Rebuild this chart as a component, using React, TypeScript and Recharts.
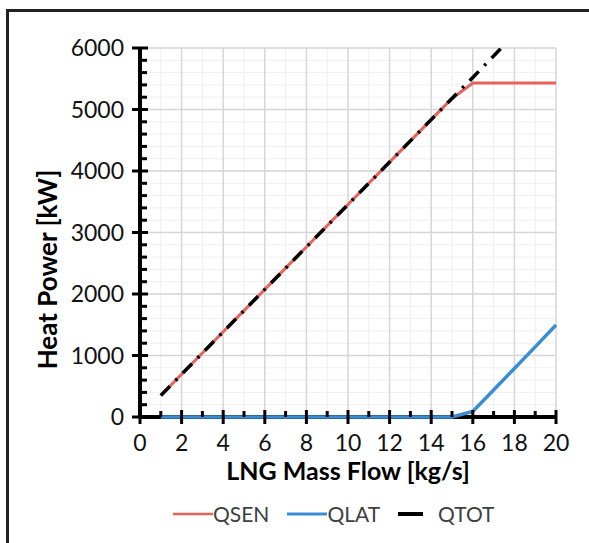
import React from 'react';
import { LineChart, Line, XAxis, YAxis, CartesianGrid, Legend, Label } from 'recharts';

// LNG mass flow [kg/s]
const flow = [1, 2, 3, 4, 5, 6, 7, 8, 9, 10, 11, 12, 13, 14, 15, 16, 17, 18, 19, 20];
// heat power [kW]
const qsen = [350, 695, 1040, 1385, 1730, 2075, 2420, 2765, 3110, 3455, 3800, 4145, 4490, 4835, 5180, 5430, 5430, 5430, 5430, 5430];
const qlat = [0, 0, 0, 0, 0, 0, 0, 0, 0, 0, 0, 0, 0, 0, 0, 90, 440, 790, 1140, 1495];
const qtot = [350, 695, 1040, 1385, 1730, 2075, 2420, 2765, 3110, 3455, 3800, 4145, 4490, 4835, 5180, 5520, 5870, 6220, null, null];

const seriesOrder = ['QSEN', 'QLAT', 'QTOT'];

const xTicks = [0, 1, 2, 3, 4, 5, 6, 7, 8, 9, 10, 11, 12, 13, 14, 15, 16, 17, 18, 19, 20];
const xMajor = [0, 2, 4, 6, 8, 10, 12, 14, 16, 18, 20];
const xMinor = [1, 3, 5, 7, 9, 11, 13, 15, 17, 19];
const yTicks = [0, 200, 400, 600, 800, 1000, 1200, 1400, 1600, 1800, 2000, 2200, 2400, 2600, 2800, 3000,
  3200, 3400, 3600, 3800, 4000, 4200, 4400, 4600, 4800, 5000, 5200, 5400, 5600, 5800, 6000];
const yMajor = [0, 1000, 2000, 3000, 4000, 5000, 6000];

const data = flow.map((f, i) => ({ flow: f, QSEN: qsen[i], QLAT: qlat[i], QTOT: qtot[i] }));

const FONT = 'Lato, "Open Sans", sans-serif';

const XTick = (props: any) => {
  const { x, y, payload } = props;
  const v = payload.value;
  if (v % 2 !== 0) {
    return <line x1={x} x2={x} y1={y} y2={y - 6} stroke="#000" strokeWidth={3} />;
  }
  return (
    <g>
      <line x1={x} x2={x} y1={y - 7} y2={y + 7} stroke="#000" strokeWidth={3} />
      <text x={x} y={y + 34} textAnchor="middle" fontFamily={FONT} fontSize={23} fill="#111">{v}</text>
    </g>
  );
};

const YTick = (props: any) => {
  const { x, y, payload } = props;
  const v = payload.value;
  if (v % 1000 !== 0) {
    return <line x1={x} x2={x + 7} y1={y} y2={y} stroke="#000" strokeWidth={3} />;
  }
  return (
    <g>
      <line x1={x - 8} x2={x + 8} y1={y} y2={y} stroke="#000" strokeWidth={3} />
      <text x={x - 16} y={y + 8} textAnchor="end" fontFamily={FONT} fontSize={23} fill="#111">{v}</text>
    </g>
  );
};

const renderLegend = (props: any) => {
  const items = [...(props.payload || [])].sort(
    (a: any, b: any) => seriesOrder.indexOf(a.value) - seriesOrder.indexOf(b.value)
  );
  return (
    <div style={{ display: 'flex', alignItems: 'center', paddingLeft: 173, fontFamily: FONT, fontSize: 21, color: '#404040' }}>
      {items.map((it: any, i: number) => {
        const dashed = it.value === 'QTOT';
        return (
          <div key={it.value} style={{ display: 'flex', alignItems: 'center', marginRight: i < items.length - 1 ? 18 : 0 }}>
            <svg width={40} height={10}>
              {dashed
                ? <line x1={0} x2={25} y1={5} y2={5} stroke={it.color} strokeWidth={4} />
                : <line x1={0} x2={40} y1={5} y2={5} stroke={it.color} strokeWidth={it.value === 'QLAT' ? 3 : 2.5} />}
            </svg>
            <span>{it.value}</span>
          </div>
        );
      })}
    </div>
  );
};

export default function App() {
  return (
    <div style={{ position: 'fixed', left: 0, top: 0, width: 589, height: 543, background: '#fff' }}>
      <div style={{ position: 'absolute', left: 6, top: 9, right: 0, bottom: 0, borderTop: '3px solid #222', borderLeft: '3px solid #222' }} />
      <div style={{ position: 'absolute', left: 0, top: 0 }}>
        <LineChart width={589} height={543} data={data} margin={{ top: 48, right: 33, left: 40, bottom: 46 }}>
          <CartesianGrid stroke="#efefef" strokeWidth={1} verticalValues={xMinor} horizontalValues={yTicks} />
          <CartesianGrid stroke="#d6d6d6" strokeWidth={1.5} verticalValues={xMajor} horizontalValues={yMajor} />
          {/* x axis line drawn in the grid layer so the QLAT line sits on top of it */}
          <CartesianGrid stroke="#000" strokeWidth={4} vertical={false} horizontalValues={[0]} />
          <XAxis
            dataKey="flow"
            type="number"
            domain={[0, 20]}
            ticks={xTicks}
            interval={0}
            tickSize={0}
            tickMargin={0}
            tick={<XTick />}
            axisLine={false}
            tickLine={false}
            height={80}
          >
            <Label value="LNG Mass Flow [kg/s]" position="insideBottom" offset={17}
              style={{ fontFamily: FONT, fontWeight: 700, fontSize: 25, fill: '#000' }} />
          </XAxis>
          <YAxis
            type="number"
            domain={[0, 6000]}
            ticks={yTicks}
            interval={0}
            tickSize={0}
            tickMargin={0}
            tick={<YTick />}
            axisLine={{ stroke: '#000', strokeWidth: 4 }}
            tickLine={false}
            width={100}
          >
            <Label
              content={(p: any) => {
                const vb = p.viewBox || { x: 40, y: 48, width: 100, height: 369 };
                const cx = 47;
                const cy = vb.y + vb.height / 2 + 37;
                return (
                  <text x={cx} y={cy} transform={`rotate(-90 ${cx} ${cy})`} textAnchor="middle" dominantBaseline="central"
                    fontFamily={FONT} fontWeight={700} fontSize={26} fill="#000">Heat Power [kW]</text>
                );
              }}
            />
          </YAxis>
          <YAxis yAxisId="clip" hide type="number" domain={[0, 6000]} allowDataOverflow />
          <Legend
            layout="horizontal"
            verticalAlign="middle"
            align="center"
            content={renderLegend}
            wrapperStyle={{ top: 501, left: 0, width: 589 }}
          />
          <Line dataKey="QSEN" stroke="#e8625a" strokeWidth={3} dot={false} isAnimationActive={false} />
          <Line dataKey="QLAT" stroke="#3a8dd4" strokeWidth={3.5} dot={false} isAnimationActive={false} />
          <Line yAxisId="clip" dataKey="QTOT" stroke="#000" strokeWidth={3.5} strokeDasharray="13 8 2.5 8" dot={false} isAnimationActive={false} />
        </LineChart>
      </div>
    </div>
  );
}
